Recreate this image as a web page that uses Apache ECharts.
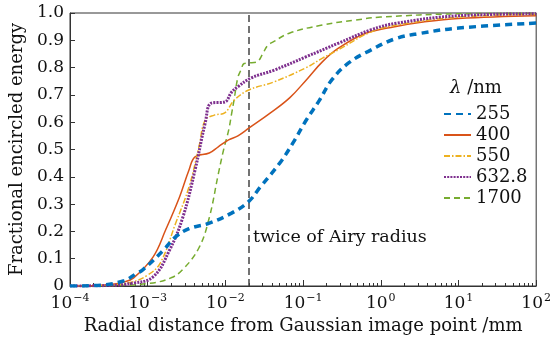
<!DOCTYPE html>
<html><head><meta charset="utf-8">
<script src="https://cdn.jsdelivr.net/npm/echarts@6/dist/echarts.min.js"></script>
<style>html,body{margin:0;padding:0;background:#fff}#c{width:554px;height:340px}</style>
</head><body><div id="c"></div>
<script>
// Data (x in mm, y = fractional encircled energy)
const names = ['255', '400', '550', '632.8', '1700'];
const x255 = [1e-4, 2.5e-4, 5e-4, 7.1e-4, 8.7e-4, 1.58e-3, 2.29e-3, 3.4e-3, 6.2e-3, 0.012, 0.02, 0.0282, 0.05, 0.0741, 0.11, 0.162, 0.234, 0.385, 0.741, 1.51, 3.16, 10, 100];
const y255 = [0, 0.003, 0.02, 0.045, 0.06, 0.13, 0.18, 0.21, 0.23, 0.267, 0.31, 0.363, 0.45, 0.524, 0.608, 0.68, 0.755, 0.817, 0.864, 0.905, 0.925, 0.945, 0.963];
const x400 = [1e-4, 3.16e-4, 5e-4, 6.6e-4, 1.17e-3, 1.7e-3, 2.57e-3, 3.4e-3, 4.07e-3, 6.2e-3, 8.1e-3, 0.011, 0.0145, 0.02, 0.038, 0.0676, 0.11, 0.178, 0.288, 0.631, 1.51, 3.5, 10, 100];
const y400 = [0, 0.005, 0.015, 0.03, 0.106, 0.205, 0.326, 0.425, 0.473, 0.487, 0.51, 0.535, 0.55, 0.578, 0.634, 0.69, 0.755, 0.822, 0.872, 0.925, 0.95, 0.967, 0.98, 0.99];
const x550 = [1e-4, 3.16e-4, 6.3e-4, 1e-3, 1.45e-3, 2.29e-3, 3.4e-3, 4.57e-3, 5.5e-3, 7.2e-3, 9.8e-3, 0.0129, 0.02, 0.0417, 0.11, 0.178, 0.288, 0.741, 1.62, 10, 100];
const y550 = [0, 0.003, 0.015, 0.04, 0.084, 0.23, 0.363, 0.51, 0.608, 0.626, 0.634, 0.68, 0.718, 0.747, 0.80, 0.835, 0.866, 0.93, 0.956, 0.985, 0.995];
const x633 = [1e-4, 3.16e-4, 6.3e-4, 1.17e-3, 1.9e-3, 2.82e-3, 4.07e-3, 5.5e-3, 6.6e-3, 9.8e-3, 0.012, 0.0145, 0.0214, 0.0417, 0.11, 0.288, 0.741, 1.62, 10, 100];
const y633 = [0, 0.002, 0.01, 0.033, 0.13, 0.25, 0.425, 0.597, 0.67, 0.674, 0.71, 0.73, 0.762, 0.79, 0.84, 0.89, 0.938, 0.963, 0.99, 0.997];
const x1700 = [1e-4, 3.16e-4, 1.07e-3, 2e-3, 2.82e-3, 4.57e-3, 6.2e-3, 8.1e-3, 9.5e-3, 0.011, 0.012, 0.0129, 0.0145, 0.0158, 0.0174, 0.02, 0.0251, 0.0302, 0.0347, 0.0417, 0.0676, 0.176, 0.468, 1, 10, 100];
const y1700 = [0, 0.001, 0.01, 0.03, 0.06, 0.14, 0.25, 0.41, 0.50, 0.57, 0.63, 0.68, 0.765, 0.79, 0.815, 0.817, 0.82, 0.85, 0.88, 0.895, 0.927, 0.956, 0.974, 0.985, 0.997, 0.999];
const airyX = 0.02;
const xExp = {'0.0001': '−4', '0.001': '−3', '0.01': '−2', '0.1': '−1', '1': '0', '10': '1', '100': '2'};
const xMinor = [];
[1e-4, 1e-3, 1e-2, 1e-1, 1, 10].forEach(d => { for (let k = 2; k <= 9; k++) xMinor.push(+(d * k).toPrecision(3)); });

const FONT = 'DejaVu Serif';
const colors = ['#0072BD', '#D95319', '#EDB120', '#7E2F8E', '#77AC30'];
const styles = [
  {width: 3.5, type: [7, 5]},
  {width: 1.5, type: 'solid'},
  {width: 1.5, type: [6, 2, 1.5, 2]},
  {width: 3, type: [2, 1.2]},
  {width: 1.5, type: [6, 4]}
];
const zs = [14, 10, 11, 12, 9];
const xs = [x255, x400, x550, x633, x1700];
const ys = [y255, y400, y550, y633, y1700];

const series = names.map((n, i) => ({
  name: n,
  type: 'line',
  xAxisIndex: 0,
  data: xs[i].map((x, j) => [x, ys[i][j]]),
  showSymbol: false,
  symbol: 'none',
  smooth: 0.4,
  color: colors[i],
  lineStyle: {color: colors[i], width: styles[i].width, type: styles[i].type},
  z: zs[i]
}));
series[0].markLine = {
  silent: true,
  symbol: 'none',
  label: {show: false},
  lineStyle: {color: '#444', width: 1.5, type: [7, 4]},
  data: [{xAxis: airyX}]
};

const chart = echarts.init(document.getElementById('c'), null, {renderer: 'canvas'});
chart.setOption({
  animation: false,
  backgroundColor: '#fff',
  textStyle: {fontFamily: FONT, color: '#111'},
  grid: {left: 65, right: 12, top: 13, bottom: 54, show: true, borderColor: '#333', borderWidth: 1, backgroundColor: 'transparent'},
  title: {
    text: '{l|λ} /nm', left: 445, top: 74,
    textStyle: {fontFamily: FONT, fontSize: 18, fontWeight: 'normal', color: '#111',
      rich: {l: {fontFamily: FONT, fontStyle: 'italic', fontSize: 18, color: '#111'}}}
  },
  legend: {
    data: names, orient: 'vertical', left: 438, top: 100,
    itemWidth: 27, itemHeight: 10, itemGap: 3,
    itemStyle: {color: 'transparent', borderColor: 'transparent', borderWidth: 0, opacity: 0},
    textStyle: {fontFamily: FONT, fontSize: 18, color: '#111', lineHeight: 18},
    selectedMode: false
  },
  xAxis: [{
    type: 'log', logBase: 10, min: 1e-4, max: 100,
    name: 'Radial distance from Gaussian image point /mm',
    nameLocation: 'middle', nameGap: 30,
    nameTextStyle: {fontFamily: FONT, fontSize: 18, color: '#111'},
    axisLine: {show: true, lineStyle: {color: '#333', width: 1}},
    axisTick: {show: true, inside: true, length: 6, lineStyle: {color: '#333'}},
    splitLine: {show: false},
    axisLabel: {
      margin: 7, color: '#111', fontFamily: FONT, fontSize: 17,
      formatter: v => '{a|10}{b|' + (xExp[String(+v.toPrecision(3))] ?? '') + '}',
      rich: {a: {fontFamily: FONT, fontSize: 17, color: '#111'},
             b: {fontFamily: FONT, fontSize: 11, color: '#111', verticalAlign: 'top', padding: [0, 0, 10, 1]}}
    }
  }, {
    type: 'log', logBase: 10, min: 1e-4, max: 100, position: 'bottom',
    axisLine: {show: false}, axisLabel: {show: false}, splitLine: {show: false},
    axisTick: {show: true, inside: true, length: 3, customValues: xMinor, lineStyle: {color: '#333'}}
  }],
  yAxis: {
    type: 'value', min: 0, max: 1, interval: 0.1,
    name: 'Fractional encircled energy', nameLocation: 'middle', nameGap: 44,
    nameTextStyle: {fontFamily: FONT, fontSize: 18, color: '#111'},
    axisLine: {show: true, lineStyle: {color: '#333', width: 1}},
    axisTick: {show: true, inside: true, length: 5, lineStyle: {color: '#333'}},
    splitLine: {show: false},
    axisLabel: {margin: 6, color: '#111', fontFamily: FONT, fontSize: 17,
      formatter: v => v === 0 ? '0' : v.toFixed(1)}
  },
  series: series.concat([{
    type: 'line', xAxisIndex: 1, data: [], silent: true
  }]),
  graphic: [{
    type: 'text', left: 253, top: 228,
    style: {text: 'twice of Airy radius', font: '17.5px "DejaVu Serif"', fill: '#111'}
  }]
});
</script></body></html>
